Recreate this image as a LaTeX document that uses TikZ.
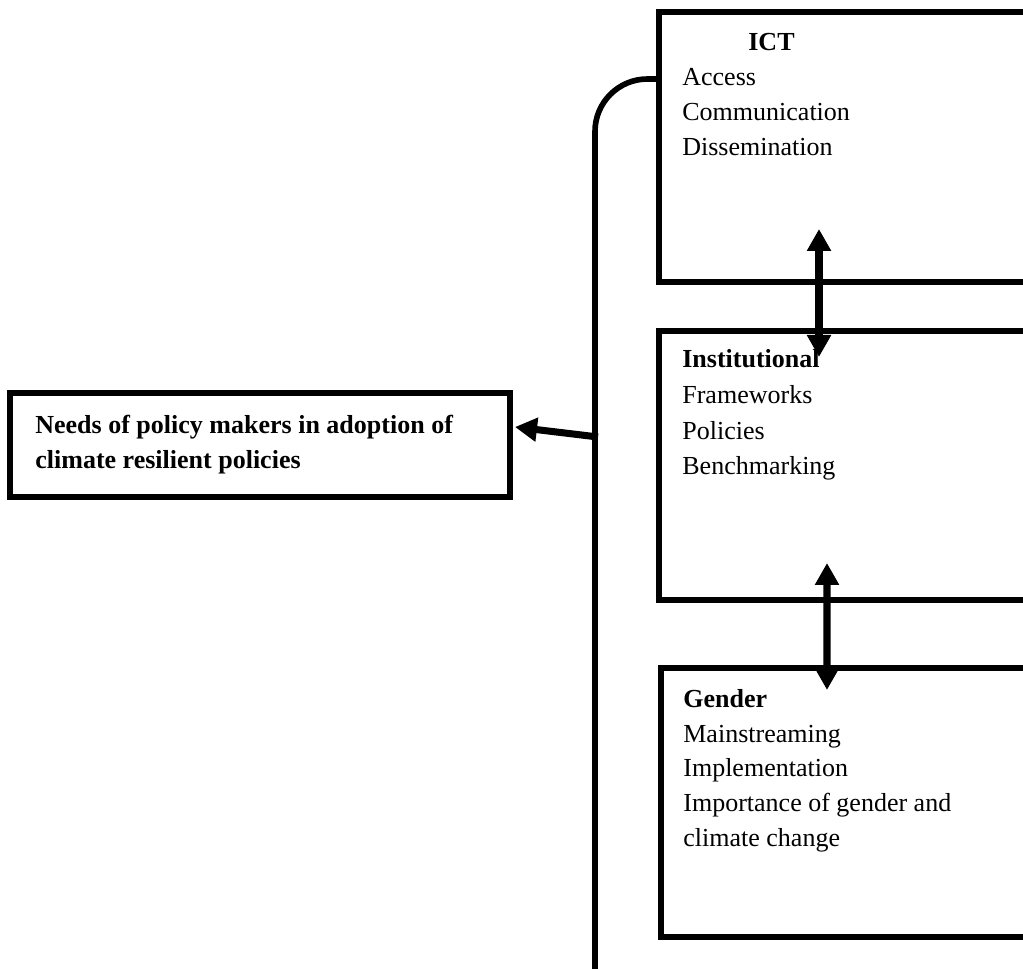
\documentclass[tikz,border=0pt]{standalone}
\usepackage{fontspec}
\setmainfont{Liberation Serif}
\usepackage{xcolor}
\usepackage{tikz}
\usetikzlibrary{arrows.meta,calc,positioning}
\definecolor{fwink}{HTML}{000000}
\tikzset{
 fwbox/.style={draw=fwink,line width=3.6pt,outer sep=0pt,inner sep=0pt,
  anchor=north west},
 fwtext/.style={anchor=base west,align=left,inner sep=0pt,text=fwink,
  font=\fontsize{14.8}{20}\selectfont},
 fwarrow/.style={-{Triangle[length=4.4mm,width=4.6mm]},line width=4pt,
  draw=fwink},
 fwboth/.style={{Triangle[length=4.4mm,width=4.6mm]}-{Triangle[length=4.4mm,width=4.6mm]},
  line width=4pt,draw=fwink}
}

\begin{document}
\begin{tikzpicture}[x=1cm,y=1cm]
% Page 1023 x 968 px at 0.02 cm per px
% Text nodes sit on the baseline of their last line
\path[use as bounding box] (0,0) rectangle (20.46,19.36);
\clip (0,0) rectangle (20.46,19.36);

% ── Needs box (left) ────────────────────────────────────────────
\node[fwbox,minimum width=10.0cm,minimum height=2.08cm] (needs) at (0.2,11.5) {};
\node[fwtext,font=\fontsize{14.8}{20}\selectfont\bfseries] (needstxt) at (0.70,9.98)
 {Needs of policy makers in adoption of\\climate resilient policies};

% ── Right column (boxes run off the page edge) ──────────────────
\node[fwbox,minimum width=8cm,minimum height=5.40cm] (ict) at (13.18,19.12) {};
\node[fwbox,minimum width=8cm,minimum height=5.38cm] (inst) at (13.18,12.74) {};
\node[fwbox,minimum width=8cm,minimum height=5.38cm] (gender) at (13.22,6.00) {};

\node[fwtext] (icttxt) at (13.64,16.24)
 {\hspace*{1.32cm}\textbf{ICT}\\Access\\Communication\\Dissemination};
\node[fwtext,font=\fontsize{14.8}{20.4}\selectfont] (insttxt) at (13.64,9.86)
 {\textbf{Institutional}\\Frameworks\\Policies\\Benchmarking};
\node[fwtext,font=\fontsize{14.8}{19.7}\selectfont] (gendertxt) at (13.66,2.44)
 {\textbf{Gender}\\Mainstreaming\\Implementation\\Importance of gender and\\climate change};

% ── Spine: from the page foot up, round into ICT ────────────────
\coordinate (spinefoot) at (11.9,-0.3);
\coordinate (ictjoin) at ([yshift=-1.34cm]ict.north west);
\draw[fwink,line width=3.2pt,rounded corners=1.05cm] (spinefoot) |- (ictjoin);

% Arrow off the spine into the needs box
\coordinate (tap) at (11.96,10.62);
\draw[fwarrow] (tap) -- ([xshift=0.1cm,yshift=0.36cm]needs.east);

% Two-way links between the boxes
\draw[fwboth] ([xshift=3.2cm,yshift=1.06cm]ict.south west)
 -- ([xshift=3.2cm,yshift=-0.52cm]inst.north west);
\draw[fwboth] ([xshift=3.36cm,yshift=0.74cm]inst.south west)
 -- ([xshift=3.32cm,yshift=-0.44cm]gender.north west);
\end{tikzpicture}
\end{document}
